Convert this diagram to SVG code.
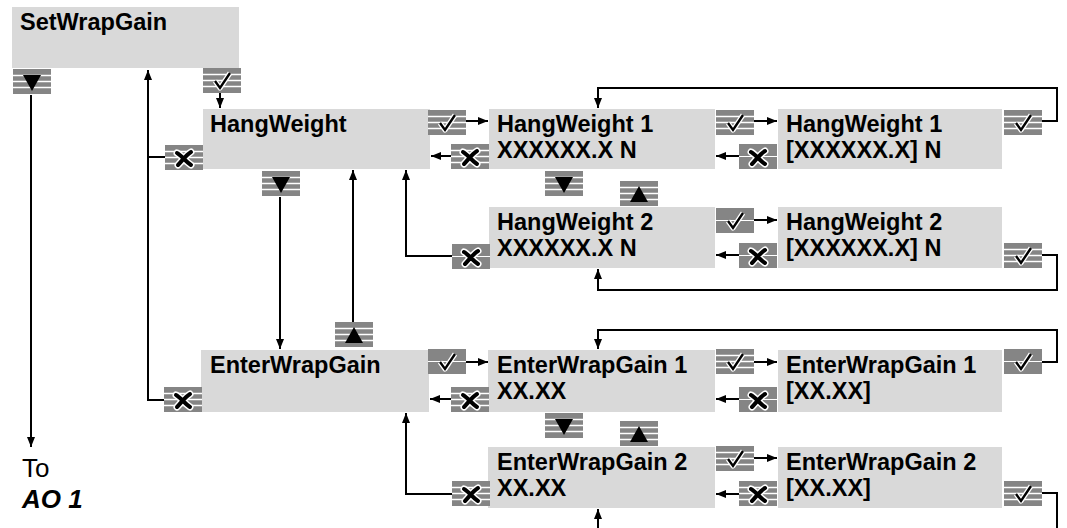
<svg xmlns="http://www.w3.org/2000/svg" xmlns:xlink="http://www.w3.org/1999/xlink" width="1067" height="528" viewBox="0 0 1067 528">
<style>
.box{fill:#d9d9d9}
.t{font-family:"Liberation Sans",Arial,sans-serif;font-size:23.5px;font-weight:bold;fill:#000}
.lbl{font-family:"Liberation Sans",Arial,sans-serif;font-size:26px;fill:#000}
.c{fill:none;stroke:#000;stroke-width:2}
.a{fill:none;stroke:#000;stroke-width:2;marker-end:url(#ah)}
</style>
<defs>
<marker id="ah" viewBox="0 0 10 8" refX="10" refY="4" markerWidth="5" markerHeight="4" orient="auto" markerUnits="strokeWidth">
<path d="M0,0 L10,4 L0,8 Z" fill="#000"/>
</marker>
<g id="bgS"><rect width="38" height="25" fill="#858585"/><path d="M0,6.5 H38 M0,12.5 H38 M0,18.5 H38" stroke="#fff" stroke-width="1.5"/></g>
<g id="bgD"><rect width="38" height="25" fill="#858585"/><path d="M0,12.5 H38" stroke="#fff" stroke-width="1.2"/></g>
<g id="ck"><path d="M12,13 L17,20 L27,5" fill="none" stroke="#fff" stroke-width="5" stroke-linejoin="round"/><path d="M12,13 L17,20 L27,5" fill="none" stroke="#000" stroke-width="2.4"/></g>
<g id="x"><path d="M12,8 C16,10 20,16 26,20 M13,20 C17,16 21,10 26,7" fill="none" stroke="#fff" stroke-width="7" stroke-linecap="round"/><path d="M12,8 C16,10 20,16 26,20 M13,20 C17,16 21,10 26,7" fill="none" stroke="#000" stroke-width="4" stroke-linecap="round"/></g>
<path id="dn" d="M10,6 L28,6 L19,22 Z" fill="#000"/>
<path id="up" d="M10,21 L28,21 L19,5 Z" fill="#000"/>
</defs>
<rect width="1067" height="528" fill="#fff"/>

<g id="connectors">
<path class="a" d="M31,95 V447"/>
<path class="a" d="M164,400 H148 V70"/>
<path class="c" d="M165,157 H148"/>
<path class="a" d="M220,93 V108"/>
<path class="a" d="M466,121 H488"/>
<path class="a" d="M451,156 H431"/>
<path class="a" d="M754,121 H777"/>
<path class="a" d="M739,156 H716"/>
<path class="a" d="M1042,121 H1057 V88 H598 V108"/>
<path class="a" d="M280,197 V349"/>
<path class="a" d="M353,322 V170"/>
<path class="a" d="M452,256 H406 V170"/>
<path class="a" d="M754,220 H777"/>
<path class="a" d="M739,255 H716"/>
<path class="a" d="M1042,255 H1057 V290 H598 V269"/>
<path class="a" d="M466,362 H488"/>
<path class="a" d="M451,399 H430"/>
<path class="a" d="M754,362 H777"/>
<path class="a" d="M739,399 H716"/>
<path class="a" d="M1042,362 H1057 V330 H598 V349"/>
<path class="a" d="M452,494 H406 V413"/>
<path class="a" d="M754,458 H777"/>
<path class="a" d="M739,494 H716"/>
<path class="c" d="M1042,493 H1057 V528"/>
<path class="a" d="M598,528 V509"/>
</g>

<g id="SetWrapGain"><rect class="box" x="12" y="7" width="227" height="61"/><text class="t" x="20" y="30">SetWrapGain</text></g>
<g id="HangWeight"><rect class="box" x="203" y="109" width="227" height="60"/><text class="t" x="210" y="132">HangWeight</text></g>
<g id="HangWeight1"><rect class="box" x="489" y="109" width="226" height="60"/><text class="t" x="497" y="132">HangWeight 1</text><text class="t" x="497" y="158">XXXXXX.X N</text></g>
<g id="HangWeight1Edit"><rect class="box" x="778" y="109" width="224" height="60"/><text class="t" x="786" y="132">HangWeight 1</text><text class="t" x="786" y="158">[XXXXXX.X] N</text></g>
<g id="HangWeight2"><rect class="box" x="489" y="207" width="226" height="61"/><text class="t" x="497" y="230">HangWeight 2</text><text class="t" x="497" y="256">XXXXXX.X N</text></g>
<g id="HangWeight2Edit"><rect class="box" x="778" y="207" width="224" height="61"/><text class="t" x="786" y="230">HangWeight 2</text><text class="t" x="786" y="256">[XXXXXX.X] N</text></g>
<g id="EnterWrapGain"><rect class="box" x="201" y="350" width="228" height="62"/><text class="t" x="210" y="373">EnterWrapGain</text></g>
<g id="EnterWrapGain1"><rect class="box" x="488" y="350" width="227" height="62"/><text class="t" x="497" y="373">EnterWrapGain 1</text><text class="t" x="497" y="399">XX.XX</text></g>
<g id="EnterWrapGain1Edit"><rect class="box" x="778" y="350" width="224" height="62"/><text class="t" x="786" y="373">EnterWrapGain 1</text><text class="t" x="786" y="399">[XX.XX]</text></g>
<g id="EnterWrapGain2"><rect class="box" x="488" y="447" width="227" height="61"/><text class="t" x="497" y="470">EnterWrapGain 2</text><text class="t" x="497" y="496">XX.XX</text></g>
<g id="EnterWrapGain2Edit"><rect class="box" x="778" y="447" width="224" height="61"/><text class="t" x="786" y="470">EnterWrapGain 2</text><text class="t" x="786" y="496">[XX.XX]</text></g>
<g id="ToAO1"><text class="lbl" x="22" y="477">To</text><text class="lbl" x="22" y="508" font-weight="bold" font-style="italic">AO 1</text></g>

<g id="keys">
<g transform="translate(13,69)"><use xlink:href="#bgS"/><use xlink:href="#dn"/></g>
<g transform="translate(203,68)"><use xlink:href="#bgS"/><use xlink:href="#ck"/></g>
<g transform="translate(165,145)"><use xlink:href="#bgS"/><use xlink:href="#x"/></g>
<g transform="translate(428,110)"><use xlink:href="#bgS"/><use xlink:href="#ck"/></g>
<g transform="translate(451,144)"><use xlink:href="#bgS"/><use xlink:href="#x"/></g>
<g transform="translate(716,110)"><use xlink:href="#bgS"/><use xlink:href="#ck"/></g>
<g transform="translate(739,144)"><use xlink:href="#bgD"/><use xlink:href="#x"/></g>
<g transform="translate(1004,110)"><use xlink:href="#bgS"/><use xlink:href="#ck"/></g>
<g transform="translate(262,171)"><use xlink:href="#bgS"/><use xlink:href="#dn"/></g>
<g transform="translate(545,171)"><use xlink:href="#bgS"/><use xlink:href="#dn"/></g>
<g transform="translate(620,181)"><use xlink:href="#bgS"/><use xlink:href="#up"/></g>
<g transform="translate(716,208)"><use xlink:href="#bgD"/><use xlink:href="#ck"/></g>
<g transform="translate(739,243)"><use xlink:href="#bgD"/><use xlink:href="#x"/></g>
<g transform="translate(1004,243)"><use xlink:href="#bgS"/><use xlink:href="#ck"/></g>
<g transform="translate(452,244)"><use xlink:href="#bgD"/><use xlink:href="#x"/></g>
<g transform="translate(335,322)"><use xlink:href="#bgS"/><use xlink:href="#up"/></g>
<g transform="translate(164,387)"><use xlink:href="#bgS"/><use xlink:href="#x"/></g>
<g transform="translate(428,349)"><use xlink:href="#bgD"/><use xlink:href="#ck"/></g>
<g transform="translate(451,387)"><use xlink:href="#bgS"/><use xlink:href="#x"/></g>
<g transform="translate(716,349)"><use xlink:href="#bgS"/><use xlink:href="#ck"/></g>
<g transform="translate(739,387)"><use xlink:href="#bgD"/><use xlink:href="#x"/></g>
<g transform="translate(1004,349)"><use xlink:href="#bgD"/><use xlink:href="#ck"/></g>
<g transform="translate(545,413)"><use xlink:href="#bgS"/><use xlink:href="#dn"/></g>
<g transform="translate(620,421)"><use xlink:href="#bgS"/><use xlink:href="#up"/></g>
<g transform="translate(716,446)"><use xlink:href="#bgS"/><use xlink:href="#ck"/></g>
<g transform="translate(739,481)"><use xlink:href="#bgS"/><use xlink:href="#x"/></g>
<g transform="translate(1004,481)"><use xlink:href="#bgS"/><use xlink:href="#ck"/></g>
<g transform="translate(452,481)"><use xlink:href="#bgS"/><use xlink:href="#x"/></g>
</g>
</svg>
